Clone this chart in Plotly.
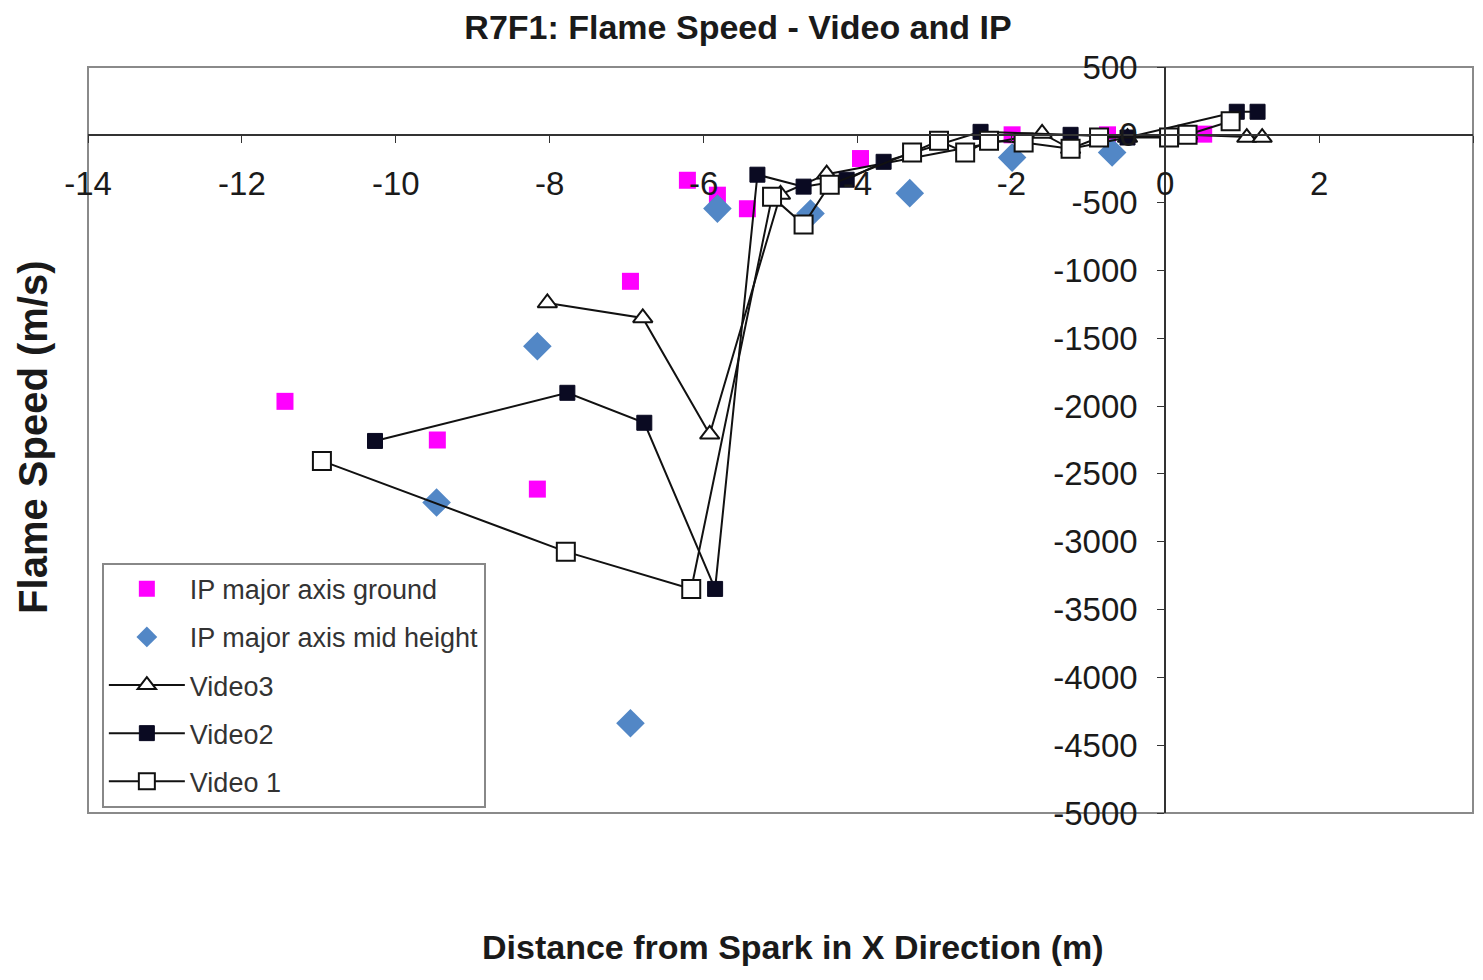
import plotly.graph_objects as go

# ---- data ----
ip_ground_x = [-11.44, -9.46, -8.16, -6.95, -6.21, -5.82, -5.43, -3.96, -1.99, -0.75, 0.50]
ip_ground_y = [-1965, -2250, -2612, -1080, -335, -445, -545, -175, 0, 0, 5]

ip_mid_x = [-9.47, -8.16, -6.95, -5.82, -4.61, -3.32, -1.99, -0.69]
ip_mid_y = [-2711, -1559, -4338, -544, -580, -430, -168, -130]

video3_x = [-8.03, -6.79, -5.92, -5.00, -4.40, -1.60, -1.23, -0.49, 0.29, 1.06, 1.26]
video3_y = [-1240, -1350, -2208, -440, -290, 10, -103, -20, 0, -20, -20]

video2_x = [-10.27, -7.77, -6.77, -5.85, -5.30, -4.70, -4.14, -3.66, -2.40, -1.23, -0.49, 0.93, 1.20]
video2_y = [-2257, -1902, -2123, -3348, -294, -382, -331, -199, 22, 0, -20, 170, 170]

video1_x = [-10.96, -7.79, -6.16, -5.11, -4.70, -4.36, -3.29, -2.94, -2.60, -2.29, -1.84, -1.23, -0.86, 0.05, 0.29, 0.85]
video1_y = [-2404, -3073, -3348, -456, -662, -368, -130, -44, -130, -44, -57, -103, -20, -20, 0, 100]

x_ticks = [-14, -12, -10, -8, -6, -4, -2, 0, 2, 4]
y_ticks = [500, 0, -500, -1000, -1500, -2000, -2500, -3000, -3500, -4000, -4500, -5000]

FONT = "Liberation Sans, Arial, sans-serif"
TXT = "#1a1a1a"

fig = go.Figure()

fig.add_trace(go.Scatter(
    x=ip_ground_x, y=ip_ground_y, mode="markers", name="IP major axis ground",
    legendgroup="g1",
    marker=dict(symbol="square", size=17, color="#FF00FF", line=dict(width=0)),
))
fig.add_trace(go.Scatter(
    x=ip_mid_x, y=ip_mid_y, mode="markers", name="IP major axis mid height",
    legendgroup="g2",
    marker=dict(symbol="diamond", size=22, color="#5287C6", line=dict(width=0)),
))
fig.add_trace(go.Scatter(
    x=video3_x, y=video3_y, mode="lines+markers", name="Video3",
    legendgroup="g3",
    line=dict(color="#111111", width=2),
    marker=dict(symbol="triangle-up", size=17, color="white", line=dict(color="#111111", width=2)),
))
fig.add_trace(go.Scatter(
    x=video2_x, y=video2_y, mode="lines+markers", name="Video2",
    legendgroup="g4",
    line=dict(color="#111111", width=2),
    marker=dict(symbol="square", size=15, color="#0a0a22", line=dict(color="#0a0a22", width=1)),
))
fig.add_trace(go.Scatter(
    x=video1_x, y=video1_y, mode="lines+markers", name="Video 1",
    legendgroup="g5",
    line=dict(color="#111111", width=2),
    marker=dict(symbol="square", size=18, color="white", line=dict(color="#111111", width=2)),
))

fig.update_layout(
    width=1467, height=964,
    margin=dict(l=80, r=2, t=59, b=159),
    paper_bgcolor="white", plot_bgcolor="white",
    font=dict(family=FONT, color=TXT),
    title=dict(text="<b>R7F1: Flame Speed - Video and IP</b>", x=0.4976, xanchor="center",
               y=0.9803, yanchor="middle", font=dict(size=34, family=FONT, color=TXT)),
    xaxis=dict(
        range=[-14, 4], tickmode="array", tickvals=x_ticks, ticktext=[str(v) for v in x_ticks],
        showgrid=False, zeroline=False, showline=True, linecolor="#333333", linewidth=2,
        ticks="outside", ticklen=7, tickcolor="#333333", tickwidth=1,
        tickfont=dict(size=33, family=FONT, color=TXT), ticklabelstandoff=13,
        anchor="free", position=5000 / 5500,
    ),
    yaxis=dict(
        range=[-5000, 500], tickmode="array", tickvals=y_ticks, ticktext=[str(v) for v in y_ticks],
        showgrid=False, zeroline=False, showline=True, linecolor="#333333", linewidth=2,
        ticks="outside", ticklen=7, tickcolor="#333333", tickwidth=1,
        tickfont=dict(size=33, family=FONT, color=TXT), ticklabelstandoff=13,
        anchor="free", position=14 / 18,
    ),
    legend=dict(
        x=0.010, y=0.007, xanchor="left", yanchor="bottom",
        bgcolor="white", bordercolor="#888888", borderwidth=2,
        font=dict(size=27, family=FONT, color="#333333"),
        tracegroupgap=10, traceorder="grouped", itemwidth=76,
    ),
    shapes=[dict(type="rect", xref="paper", yref="paper", x0=0, x1=1, y0=0, y1=1,
                 line=dict(color="#8a8a8a", width=2), layer="below")],
    annotations=[
        dict(text="<b>Distance from Spark in X Direction (m)</b>", xref="paper", yref="paper",
             x=0.509, y=-0.180, xanchor="center", yanchor="middle", showarrow=False,
             font=dict(size=34, family=FONT, color=TXT)),
        dict(text="<b>Flame Speed (m/s)</b>", xref="paper", yref="paper",
             x=-0.0396, y=0.503, xanchor="center", yanchor="middle", showarrow=False,
             textangle=-90, font=dict(size=40, family=FONT, color=TXT)),
    ],
)

fig.write_html("out.html")
